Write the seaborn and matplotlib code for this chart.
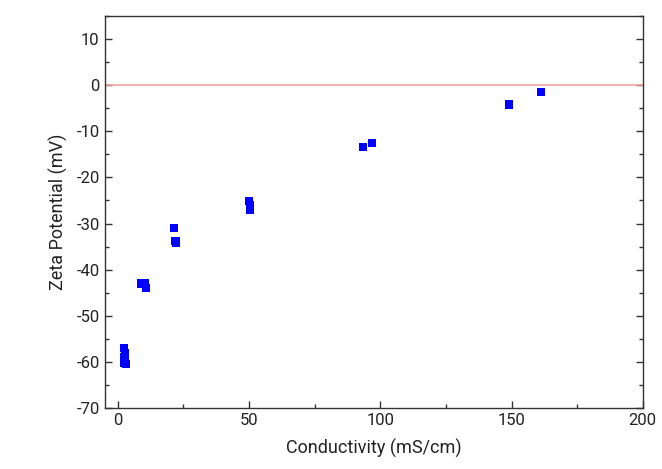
import matplotlib
matplotlib.use("Agg")
import matplotlib.pyplot as plt
import seaborn as sns
import pandas as pd
from matplotlib.ticker import MultipleLocator

conductivity = [2.5, 2.7, 2.6, 2.8, 3.0, 2.4, 9.0, 10.5, 10.8, 21.5, 22.0, 22.2, 50.0, 50.3, 50.5, 93.5, 97.0, 149.2, 161.1]
zeta = [-57.0, -58.0, -59.0, -59.8, -60.5, -60.2, -43.0, -43.0, -44.0, -31.0, -33.8, -34.3, -25.2, -26.0, -27.0, -13.4, -12.5, -4.2, -1.4]
x_ticks = [0, 50, 100, 150, 200]
y_ticks = [-70, -60, -50, -40, -30, -20, -10, 0, 10]

df = pd.DataFrame({"Conductivity": conductivity, "Zeta": zeta})

sns.set_style("white")
plt.rcParams['font.family'] = ['Roboto', 'DejaVu Sans']
plt.rcParams['axes.unicode_minus'] = False

fig = plt.figure(figsize=(6.62, 4.69), dpi=100)
ax = fig.add_axes([0.158, 0.130, 0.813, 0.836])

ax.axhline(0, color="#f2a0a0", lw=1.2, zorder=1)
sns.scatterplot(data=df, x="Conductivity", y="Zeta", marker="s", color="#0000ff",
                s=34, edgecolor="none", ax=ax, zorder=3)

ax.set_xlim(-5, 200)
ax.set_ylim(-70, 15)
ax.set_xticks(x_ticks)
ax.set_yticks(y_ticks)
ax.xaxis.set_minor_locator(MultipleLocator(25))
ax.yaxis.set_minor_locator(MultipleLocator(5))
ax.tick_params(which="both", direction="in", right=True, top=False, left=True, bottom=True,
               color="#333333", labelsize=12, labelcolor="#222222")
ax.tick_params(which="major", length=5, width=1)
ax.tick_params(which="minor", length=3, width=1)
for s in ax.spines.values():
    s.set_color("#333333")
    s.set_linewidth(1.0)

ax.set_xlabel("Conductivity (mS/cm)", fontsize=13, color="#222222", labelpad=8)
ax.set_ylabel("Zeta Potential (mV)", fontsize=13, color="#222222", labelpad=6)

fig.savefig("out.png", dpi=100)
